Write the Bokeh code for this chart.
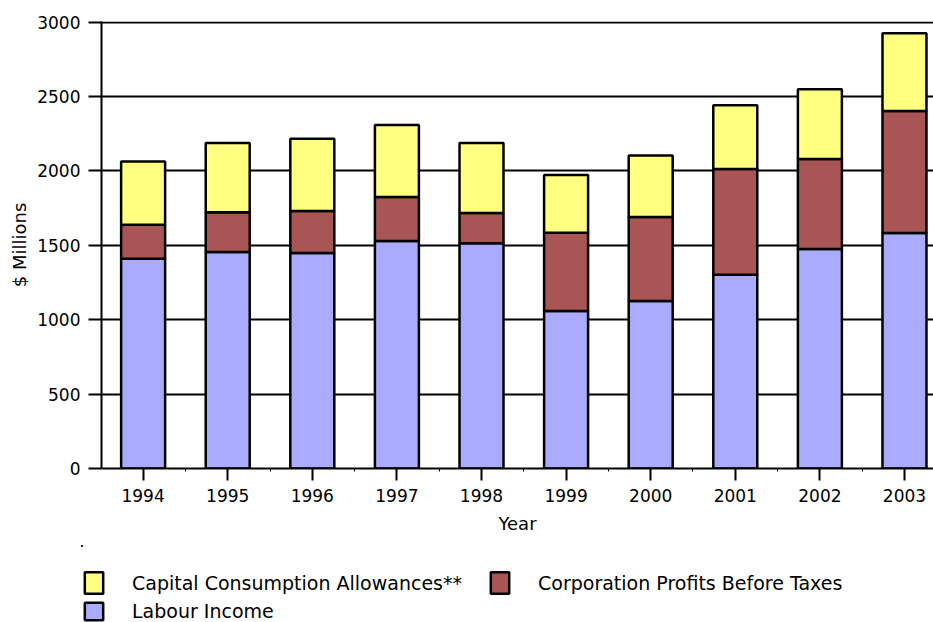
from bokeh.plotting import figure
from bokeh.models import (ColumnDataSource, Range1d, FixedTicker, Legend, LegendItem)
from bokeh.layouts import column
from bokeh.embed import file_html
from bokeh.resources import INLINE

years = [1994, 1995, 1996, 1997, 1998, 1999, 2000, 2001, 2002, 2003]
labour = [1410, 1455, 1449, 1529, 1514, 1059, 1126, 1303, 1476, 1583]
corp = [229, 267, 282, 296, 204, 526, 565, 710, 605, 820]
capital = [424, 466, 486, 484, 470, 388, 414, 429, 468, 523]
y_ticks = [0, 500, 1000, 1500, 2000, 2500, 3000]

series_names = ["Labour Income", "Corporation Profits Before Taxes",
                "Capital Consumption Allowances**"]
series_keys = ["labour", "corp", "capital"]
series_colors = ["#AAAAFF", "#AA5555", "#FFFF80"]

source = ColumnDataSource(dict(year=years, labour=labour, corp=corp, capital=capital))

FONT = "DejaVu Sans"

p = figure(width=933, height=545, output_backend="svg", toolbar_location=None,
           x_range=Range1d(1993.508, 2003.343), y_range=Range1d(0, 3005),
           min_border_left=101, min_border_right=0, min_border_top=21,
           min_border_bottom=77)
p.outline_line_color = None

rs = p.vbar_stack(series_keys, x="year", width=0.52, source=source,
                  fill_color=series_colors, line_color="black", line_width=2.5)

# grid
p.xgrid.grid_line_color = None
p.ygrid.grid_line_color = "black"
p.ygrid.grid_line_width = 2
p.ygrid.ticker = FixedTicker(ticks=y_ticks)

# y axis
p.yaxis.ticker = FixedTicker(ticks=y_ticks)
p.yaxis.axis_label = "$ Millions"
p.yaxis.axis_label_text_font = FONT
p.yaxis.axis_label_text_font_size = "18px"
p.yaxis.axis_label_text_font_style = "normal"
p.yaxis.axis_label_text_color = "black"
p.yaxis.axis_label_standoff = 4
p.yaxis.major_label_text_font = FONT
p.yaxis.major_label_text_font_size = "17px"
p.yaxis.major_label_text_color = "black"
p.yaxis.major_label_standoff = 8
p.yaxis.axis_line_color = "black"
p.yaxis.axis_line_width = 2
p.yaxis.major_tick_line_color = "black"
p.yaxis.major_tick_line_width = 2
p.yaxis.major_tick_in = 0
p.yaxis.major_tick_out = 13
p.yaxis.minor_tick_line_color = None

# x axis
p.xaxis.ticker = FixedTicker(ticks=years, minor_ticks=[y + 0.5 for y in years])
p.xaxis.axis_label = "Year"
p.xaxis.axis_label_text_font = FONT
p.xaxis.axis_label_text_font_size = "18px"
p.xaxis.axis_label_text_font_style = "normal"
p.xaxis.axis_label_text_color = "black"
p.xaxis.axis_label_standoff = 8
p.xaxis.major_label_text_font = FONT
p.xaxis.major_label_text_font_size = "17px"
p.xaxis.major_label_text_color = "black"
p.xaxis.major_label_standoff = 8
p.xaxis.axis_line_color = "black"
p.xaxis.axis_line_width = 2
p.xaxis.major_tick_line_color = "black"
p.xaxis.major_tick_line_width = 2
p.xaxis.major_tick_in = 0
p.xaxis.major_tick_out = 12
p.xaxis.minor_tick_line_color = "black"
p.xaxis.minor_tick_line_width = 1
p.xaxis.minor_tick_in = 0
p.xaxis.minor_tick_out = 3

# legend strip below the chart (its key renderers lie outside both of its ranges)
p2 = figure(width=953, height=77, output_backend="svg", toolbar_location=None,
            x_range=Range1d(2050, 2060), y_range=Range1d(-3, -2),
            x_axis_location=None, y_axis_location=None,
            min_border_left=0, min_border_right=0, min_border_top=0, min_border_bottom=0,
            margin=(0, 0, 0, -20))
p2.outline_line_color = None
p2.xgrid.visible = False
p2.ygrid.visible = False

key_rs = [p2.vbar(x="year", top=k, width=0.5, source=source,
                  fill_color=c, line_color="black", line_width=2.5)
          for k, c in zip(series_keys, series_colors)]

common = dict(orientation="horizontal", padding=0, margin=0, glyph_width=23,
              label_standoff=27, label_text_font=FONT, label_text_font_size="19px",
              label_text_color="black", border_line_color=None,
              background_fill_alpha=0)

leg_specs = [(2, (1, 26), 27), (1, (407, 26), 27), (0, (1, 0), 22)]
for idx, loc, gh in leg_specs:
    leg = Legend(items=[LegendItem(label=series_names[idx], renderers=[key_rs[idx]])],
                 location=loc, spacing=0, glyph_height=gh, label_height=gh, **common)
    p2.add_layout(leg)

open("out.html", "w").write(file_html(column(p, p2, spacing=0), INLINE))
